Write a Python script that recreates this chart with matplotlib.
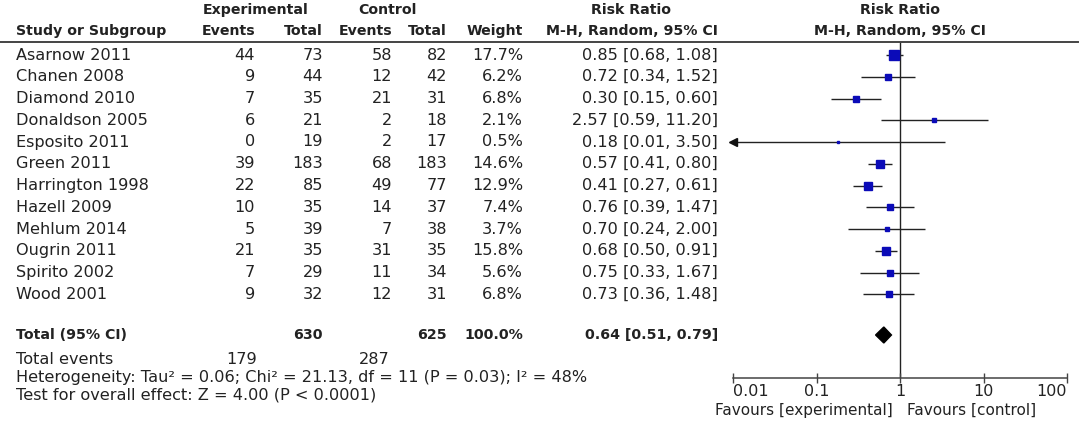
"""Forest plot: risk ratio, M-H random effects, 12 studies plus pooled total."""
import matplotlib
matplotlib.use("Agg")
import matplotlib.pyplot as plt
import matplotlib.transforms as mtrans
from matplotlib.lines import Line2D
from matplotlib.patches import Polygon
import numpy as np

studies = ["Asarnow 2011", "Chanen 2008", "Diamond 2010", "Donaldson 2005",
           "Esposito 2011", "Green 2011", "Harrington 1998", "Hazell 2009",
           "Mehlum 2014", "Ougrin 2011", "Spirito 2002", "Wood 2001"]
exp_events = [44, 9, 7, 6, 0, 39, 22, 10, 5, 21, 7, 9]
exp_total = [73, 44, 35, 21, 19, 183, 85, 35, 39, 35, 29, 32]
ctrl_events = [58, 12, 21, 2, 2, 68, 49, 14, 7, 31, 11, 12]
ctrl_total = [82, 42, 31, 18, 17, 183, 77, 37, 38, 35, 34, 31]
weight = [17.7, 6.2, 6.8, 2.1, 0.5, 14.6, 12.9, 7.4, 3.7, 15.8, 5.6, 6.8]
rr = [0.85, 0.72, 0.30, 2.57, 0.18, 0.57, 0.41, 0.76, 0.70, 0.68, 0.75, 0.73]
rr_lo = [0.68, 0.34, 0.15, 0.59, 0.01, 0.41, 0.27, 0.39, 0.24, 0.50, 0.33, 0.36]
rr_hi = [1.08, 1.52, 0.60, 11.20, 3.50, 0.80, 0.61, 1.47, 2.00, 0.91, 1.67, 1.48]

tot_exp, tot_ctrl, tot_weight = 630, 625, 100.0
tot_rr, tot_lo, tot_hi = 0.64, 0.51, 0.79
tot_exp_events, tot_ctrl_events = 179, 287
heterogeneity = "Heterogeneity: Tau\u00b2 = 0.06; Chi\u00b2 = 21.13, df = 11 (P = 0.03); I\u00b2 = 48%"
overall = "Test for overall effect: Z = 4.00 (P < 0.0001)"

ticks = [0.01, 0.1, 1, 10, 100]
tick_labels = ["0.01", "0.1", "1", "10", "100"]

W, H = 1084, 422
TXT = "#222222"
BLUE = "#0b0bb8"
FS = 11.6      # regular text
FSB = 10.2     # bold headers / totals

plt.rcParams["font.family"] = ["DejaVu Sans"]
fig = plt.figure(figsize=(W / 100, H / 100), dpi=100)
fig.patch.set_facecolor("white")

# forest axes: x 733..1067 px, y 42..378 px (top origin)
def px(x): return x / W
ax = fig.add_axes([px(733), 1 - 378 / H, px(1067 - 733), (378 - 42) / H])

ROW0, ROWH = 55, 21.75
def row(ypx): return (ypx - ROW0) / ROWH

ax.set_xscale("log")
ax.set_xlim(0.01, 100)
ax.set_ylim(row(378), row(42))
for s in ("top", "left", "right"):
    ax.spines[s].set_visible(False)
ax.spines["bottom"].set_color("#444444")
ax.spines["bottom"].set_linewidth(1.1)
ax.set_yticks([])
ax.set_xticks(ticks)
ax.set_xticklabels(tick_labels)
ax.minorticks_off()
ax.tick_params(axis="x", direction="inout", length=7, width=1.0, color="#444444",
               labelsize=11.5, labelcolor=TXT, pad=0.5)
labels = ax.get_xticklabels()
labels[0].set_horizontalalignment("left")
labels[-1].set_horizontalalignment("right")
ax.axvline(1, color="#222222", lw=1.0, zorder=1)

y = np.arange(len(studies))
xmin = ax.get_xlim()[0]
for i in range(len(studies)):
    lo = max(rr_lo[i], xmin)
    ax.plot([lo, rr_hi[i]], [y[i], y[i]], color="#222222", lw=1.0, zorder=2,
            solid_capstyle="butt")
    if rr_lo[i] <= xmin:
        ax.plot([xmin], [y[i]], marker="<", color="#111111", ms=6, clip_on=False, zorder=3)
    side_px = max(2.5, 9.5 * np.sqrt(weight[i] / max(weight)))
    ax.plot([rr[i]], [y[i]], marker="s", ls="none", ms=side_px * 0.72,
            color=BLUE, mec=BLUE, zorder=4)

y_tot = row(335)
dh = 8 / ROWH
ax.add_patch(Polygon([(tot_lo, y_tot), (tot_rr, y_tot - dh), (tot_hi, y_tot),
                      (tot_rr, y_tot + dh)], closed=True, color="black", zorder=4))

# favours labels
y_fav = row(410)
ax.text(1, y_fav, "Favours [experimental]", ha="right", va="center", fontsize=11, color=TXT,
        transform=mtrans.offset_copy(ax.transData, fig=fig, x=-7, y=0, units="dots"))
ax.text(1, y_fav, "Favours [control]", ha="left", va="center", fontsize=11, color=TXT,
        transform=mtrans.offset_copy(ax.transData, fig=fig, x=7, y=0, units="dots"))

# table text (x in figure fraction, y in forest rows)
tr = mtrans.blended_transform_factory(fig.transFigure, ax.transData)

def t(xpx, yrow, s, ha="right", bold=False):
    fig.text(px(xpx), yrow, s, transform=tr, ha=ha, va="center",
             fontsize=FSB if bold else FS, color=TXT,
             fontweight="bold" if bold else "normal")

X_NAME, X_EE, X_ET, X_CE, X_CT, X_W, X_RR = 16, 255, 323, 392, 447, 523, 718

h1, h2 = row(10), row(31)
t(256, h1, "Experimental", ha="center", bold=True)
t(387, h1, "Control", ha="center", bold=True)
t(X_NAME, h2, "Study or Subgroup", ha="left", bold=True)
t(X_EE, h2, "Events", bold=True)
t(X_ET, h2, "Total", bold=True)
t(X_CE, h2, "Events", bold=True)
t(X_CT, h2, "Total", bold=True)
t(X_W, h2, "Weight", bold=True)
t(631, h1, "Risk Ratio", ha="center", bold=True)
t(X_RR, h2, "M-H, Random, 95% CI", bold=True)
t(900, h1, "Risk Ratio", ha="center", bold=True)
t(900, h2, "M-H, Random, 95% CI", ha="center", bold=True)

fig.add_artist(Line2D([0, px(1078)], [1 - 42 / H] * 2, transform=fig.transFigure,
                      color="#444444", lw=1.4))

for i, name in enumerate(studies):
    t(X_NAME, y[i], name, ha="left")
    t(X_EE, y[i], str(exp_events[i]))
    t(X_ET, y[i], str(exp_total[i]))
    t(X_CE, y[i], str(ctrl_events[i]))
    t(X_CT, y[i], str(ctrl_total[i]))
    t(X_W, y[i], f"{weight[i]:.1f}%")
    t(X_RR, y[i], f"{rr[i]:.2f} [{rr_lo[i]:.2f}, {rr_hi[i]:.2f}]")

t(X_NAME, y_tot, "Total (95% CI)", ha="left", bold=True)
t(X_ET, y_tot, str(tot_exp), bold=True)
t(X_CT, y_tot, str(tot_ctrl), bold=True)
t(X_W, y_tot, f"{tot_weight:.1f}%", bold=True)
t(X_RR, y_tot, f"{tot_rr:.2f} [{tot_lo:.2f}, {tot_hi:.2f}]", bold=True)

t(X_NAME, row(359), "Total events", ha="left")
t(X_EE + 2, row(359), str(tot_exp_events))
t(X_CE - 2, row(359), str(tot_ctrl_events))
t(X_NAME, row(377), heterogeneity, ha="left")
t(X_NAME, row(395), overall, ha="left")

fig.savefig("out.png", dpi=100, facecolor="white")
